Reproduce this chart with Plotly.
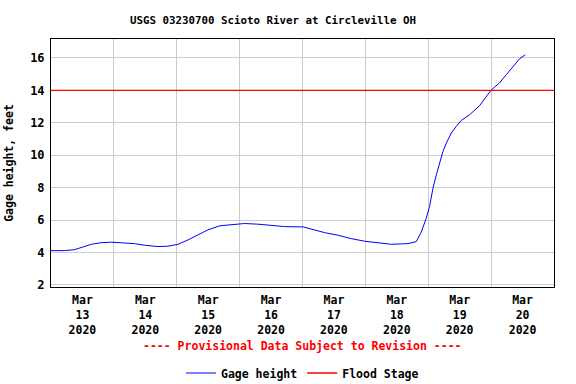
import pandas as pd
import plotly.graph_objects as go

# ---- data ----
start = pd.Timestamp("2020-03-13 00:00")
end = pd.Timestamp("2020-03-21 00:00")

hours_since_start = [0, 5.2, 9.0, 11.6, 15.4, 19.2, 23.0, 28.1, 31.9, 35.7, 40.8, 44.6,
                     48.5, 52.3, 56.1, 59.9, 64.4, 68.8, 73.9, 79.0, 84.1, 89.2, 96.3,
                     99.4, 104.4, 109.5, 114.6, 119.7, 124.8, 129.9, 136.2, 139.4, 141.3,
                     143.2, 144.5, 145.8, 147.1, 148.3, 149.6, 150.9, 152.8, 154.7, 156.6,
                     159.8, 163.6, 168.0, 171.2, 173.8, 176.3, 178.8, 181.0]
gage_height = [4.12, 4.12, 4.18, 4.33, 4.51, 4.61, 4.64, 4.59, 4.55, 4.45, 4.37, 4.39,
               4.51, 4.78, 5.07, 5.40, 5.65, 5.73, 5.79, 5.75, 5.66, 5.60, 5.58,
               5.44, 5.23, 5.07, 4.86, 4.70, 4.61, 4.51, 4.55, 4.67, 5.25,
               6.10, 6.84, 7.97, 8.80, 9.52, 10.23, 10.75, 11.37, 11.78, 12.15,
               12.50, 13.06, 14.02, 14.46, 14.97, 15.45, 15.94, 16.19]
flood_stage = 14.0

tick_days = ["2020-03-13", "2020-03-14", "2020-03-15", "2020-03-16",
             "2020-03-17", "2020-03-18", "2020-03-19", "2020-03-20"]
tick_text = ["Mar<br>13<br>2020", "Mar<br>14<br>2020", "Mar<br>15<br>2020", "Mar<br>16<br>2020",
             "Mar<br>17<br>2020", "Mar<br>18<br>2020", "Mar<br>19<br>2020", "Mar<br>20<br>2020"]
y_ticks = [2, 4, 6, 8, 10, 12, 14, 16]

times = [start + pd.Timedelta(hours=h) for h in hours_since_start]
label_pos = [pd.Timestamp(d) + pd.Timedelta(hours=12) for d in tick_days]
grid_pos = [pd.Timestamp(d) for d in tick_days] + [end]

FONT = "DejaVu Sans Mono"

fig = go.Figure()
fig.add_trace(go.Scatter(x=times, y=gage_height, mode="lines", name="Gage height",
                         line=dict(color="#0000ff", width=1)))
fig.add_trace(go.Scatter(x=[start, end], y=[flood_stage, flood_stage], mode="lines",
                         name="Flood Stage", line=dict(color="#ff0000", width=1.3)))

fig.update_layout(
    width=576, height=384,
    margin=dict(l=51, r=22, t=39, b=97, autoexpand=False),
    paper_bgcolor="white", plot_bgcolor="white",
    font=dict(family=FONT, size=11.5, color="black", weight="bold"),
    title=dict(text="USGS 03230700 Scioto River at Circleville OH",
               font=dict(family=FONT, size=10.8, color="black", weight="bold"),
               xref="container", x=273 / 576, xanchor="center",
               yref="container", y=1 - 20 / 384, yanchor="middle"),
    showlegend=True,
    legend=dict(orientation="h", xref="paper", x=0.5, xanchor="center",
                yref="container", y=1 - 373 / 384, yanchor="middle",
                font=dict(family=FONT, size=11.5, color="black", weight="bold"),
                bgcolor="rgba(0,0,0,0)"),
    annotations=[dict(text="---- Provisional Data Subject to Revision ----",
                      xref="paper", yref="paper", x=0.5, y=-0.238,
                      xanchor="center", yanchor="middle", showarrow=False,
                      font=dict(family=FONT, size=11.5, color="#ff0000", weight="bold"))],
)

fig.update_xaxes(
    range=[start, end], tickmode="array", tickvals=label_pos, ticktext=tick_text,
    showgrid=False, ticks="", showline=True, mirror=True, linecolor="black", linewidth=1,
    zeroline=False, automargin=False, ticklabelstandoff=2,
    minor=dict(tickmode="array", tickvals=grid_pos, showgrid=True,
               gridcolor="#cccccc", gridwidth=1, ticks=""),
)
fig.update_yaxes(
    range=[1.876, 17.17], tickmode="array", tickvals=y_ticks,
    showgrid=True, gridcolor="#cccccc", gridwidth=1, ticks="",
    showline=True, mirror=True, linecolor="black", linewidth=1, zeroline=False,
    automargin=False, ticklabelstandoff=3,
    tickfont=dict(family=FONT, size=12, color="black", weight="bold"),
    title=dict(text="Gage height, feet", standoff=14,
               font=dict(family=FONT, size=11.5, color="black", weight="bold")),
)

fig.write_html("out.html", config={"displayModeBar": False},
               post_script="document.body.style.margin='0px';document.body.style.padding='0px';")
